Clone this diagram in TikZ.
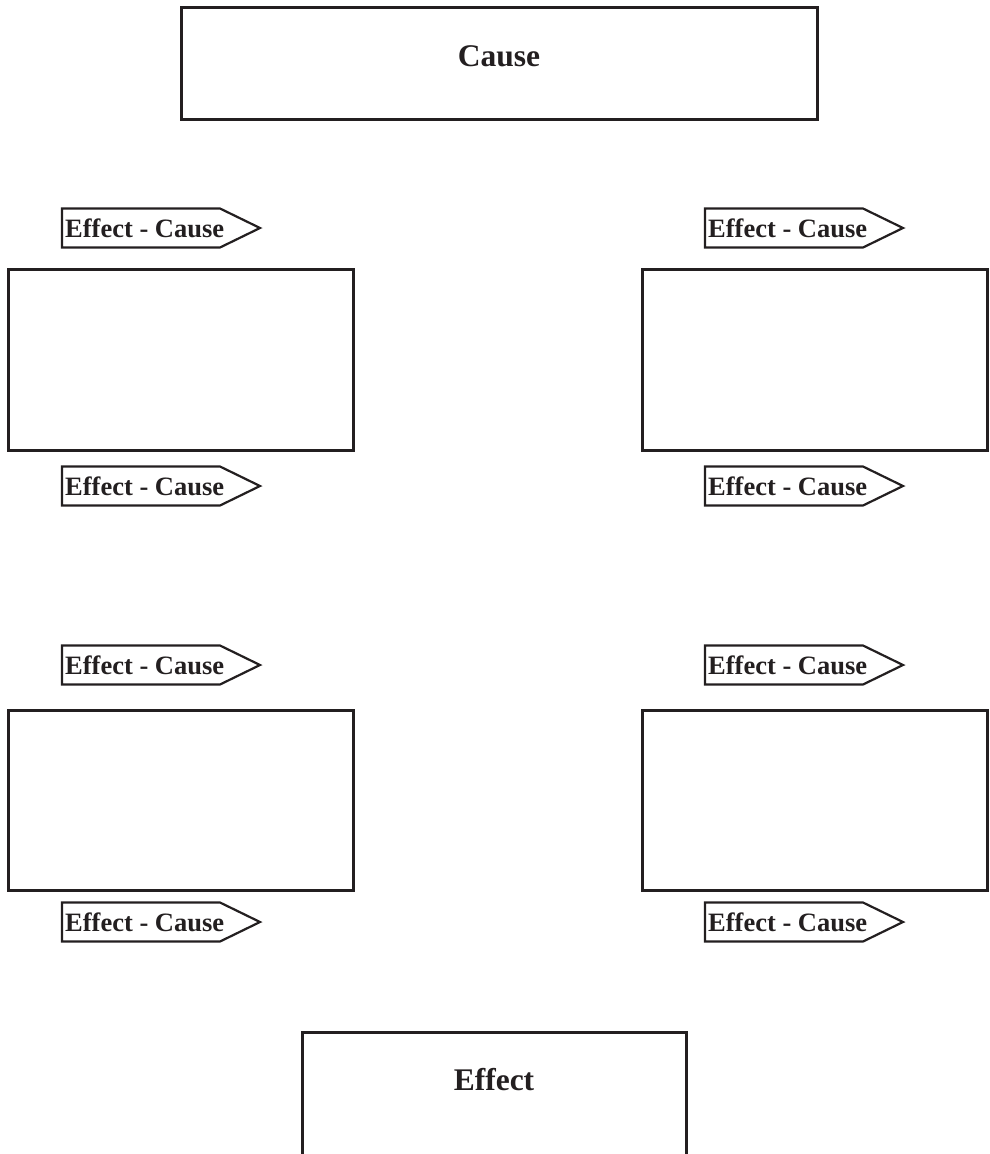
\documentclass[tikz,border=0pt]{standalone}
\usepackage{fontspec}
\setmainfont{Liberation Serif}
\definecolor{ink}{HTML}{231F20}
\newcommand{\mytag}[3]{%
  \coordinate (#1) at (#2,#3);
  \draw[tagline] ([shift={(0,-19.5)}]#1) -- ++(158,0) -- ++(40,19.5) -- ++(-40,19.5) -- ++(-158,0) -- cycle;
  \node[tagtext] (#1txt) at ([shift={(3,0)}]#1) {Effect - Cause};}
\begin{document}
\begin{tikzpicture}[x=1pt,y=-1pt,
  bigbox/.style={draw=ink, line width=3pt, rectangle},
  title/.style={text=ink, font=\bfseries\fontsize{31.5}{36}\selectfont},
  tagline/.style={draw=ink, line width=2.2pt, line join=miter},
  tagtext/.style={anchor=west, inner sep=0pt, text=ink, font=\bfseries\fontsize{26.5}{30}\selectfont}]
\useasboundingbox (0,0) rectangle (989,1154);
\clip (0,0) rectangle (989,1154);
% top cause box
\draw[bigbox] (181,7) rectangle (817,119);
\node[title] (cause) at (499,56) {Cause};
% middle boxes
\draw[bigbox] (8,269) rectangle (353,450);
\draw[bigbox] (642,269) rectangle (987,450);
\draw[bigbox] (8,710) rectangle (353,890);
\draw[bigbox] (642,710) rectangle (987,890);
% tags
\mytag{t1}{62}{228}
\mytag{t2}{705}{228}
\mytag{t3}{62}{486}
\mytag{t4}{705}{486}
\mytag{t5}{62}{665}
\mytag{t6}{705}{665}
\mytag{t7}{62}{922}
\mytag{t8}{705}{922}
% effect box (open at bottom)
\draw[bigbox] (302,1170) -- (302,1032) -- (686,1032) -- (686,1170);
\node[title] (effect) at (494,1080) {Effect};
\end{tikzpicture}
\end{document}
